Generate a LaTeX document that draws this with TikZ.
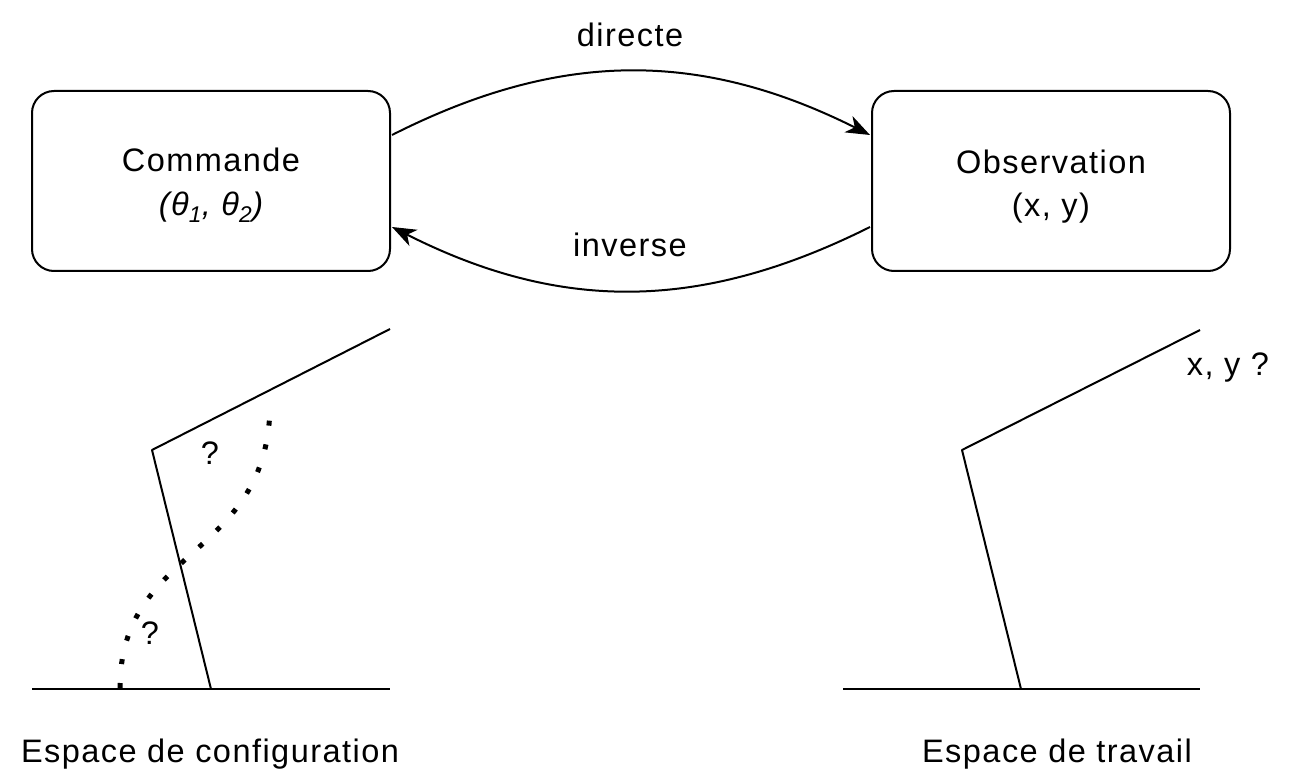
\documentclass[tikz,border=0pt]{standalone}
\usepackage{fontspec}
\setmainfont{Liberation Sans}[LetterSpace=4.5]
\usetikzlibrary{arrows.meta}
\begin{document}
\begin{tikzpicture}[x=1pt,y=-1pt,
  box/.style={draw,line width=2pt,rounded corners=22pt,minimum width=358pt,minimum height=180pt,fill=white,inner sep=0pt},
  lbl/.style={font=\fontsize{32.5}{36}\selectfont,inner sep=0pt},
  link/.style={line width=2pt,line join=round},
  conn/.style={line width=2pt,-{Stealth[length=24pt,width=18pt,inset=7pt]}},
  dots/.style={line width=5pt,dash pattern=on 5pt off 19pt}]
\useasboundingbox (0,0) rectangle (1293,783);
\node[box] (cmd) at (211,181) {};
\node[box] (obs) at (1051,181) {};
\node[lbl] (cmdt) at (211,160) {Commande};
\node[lbl] (cmdv) at (211,207) {\itshape(θ\textsubscript{1}, θ\textsubscript{2})};
\node[lbl] (obst) at (1051,162) {Observation};
\node[lbl] (obsv) at (1051,208) {(x, y)};
\coordinate (a1) at (392,135);
\coordinate (a2) at (870,135);
\coordinate (b1) at (870,227);
\coordinate (b2) at (392,227);
\draw[conn] (a1) .. controls (560,50) and (700,50) .. (a2);
\draw[conn] (b1) .. controls (700,312) and (560,312) .. (b2);
\node[lbl] (dir) at (630,35) {directe};
\node[lbl] (inv) at (630,245) {inverse};
% left robot
\coordinate (lb1) at (32,689);
\coordinate (lb2) at (390,689);
\coordinate (lj0) at (211,689);
\coordinate (lj1) at (152,450);
\coordinate (lj2) at (390,329);
\draw[link] (lb1) -- (lb2);
\draw[link] (lj0) -- (lj1) -- (lj2);
\coordinate (d1) at (120,688);
\coordinate (d2) at (270,403);
\draw[dots] (d1) .. controls (120,545) and (270,560) .. (d2);
\node[lbl] (q1) at (210,453) {?};
\node[lbl] (q2) at (150,633) {?};
% right robot
\coordinate (rb1) at (843,689);
\coordinate (rb2) at (1200,689);
\coordinate (rj0) at (1021,689);
\coordinate (rj1) at (962,450);
\coordinate (rj2) at (1200,330);
\draw[link] (rb1) -- (rb2);
\draw[link] (rj0) -- (rj1) -- (rj2);
\node[lbl] (xy) at (1228,368) {x, y ?};
\node[lbl] (esc) at (210,754) {Espace de configuration};
\node[lbl] (est) at (1057,754) {Espace de travail};
\end{tikzpicture}
\end{document}
